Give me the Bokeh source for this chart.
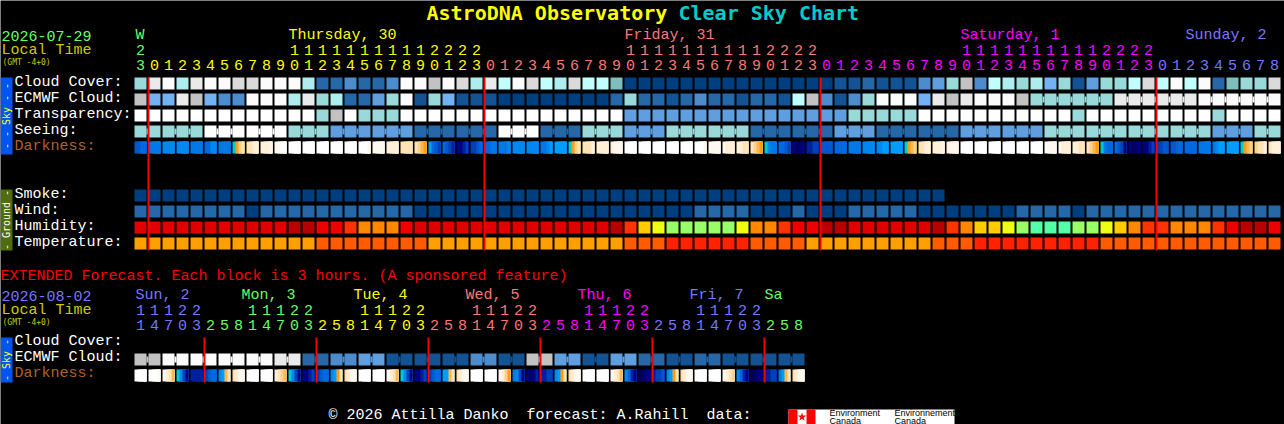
from math import pi
from bokeh.plotting import figure
from bokeh.core.properties import value
from bokeh.embed import file_html
from bokeh.resources import INLINE

# ---------- data (one code per hourly block) ----------
title_parts = [("AstroDNA Observatory", "#FFFF00"), ("Clear Sky Chart", "#00CCCC")]
cloud_cover = list("HMNIMNNLLNNNICCDCCDNN" "KNLIMJNLJILJJG" "AAAAAAAAAAAAAAA" "BB" "CBBBDEHKDJIHIFHBEHHJLJNJNCGHHL")
ecmwf_cloud = list("KFFMKFDDNNNIMHICCEHNB" "HFBBB" "AAAAAAAA" "CHCCBCDCCBCCBJKDBD" "HNNNFMKMNNNKHHHHHHMMMMMMNNNNNN")
transparency = list("WWWWWWWWWWWWW" "HKWHHHWW" "WWWWWWWWWWWWWW" "EEEEEEEEEEEEEEEE" "HHHHH" "WWWWWWWWWWW" "H" "WWWWWWWWW" "H" "WWWW")
seeing = list("HHHHH" "WWWWWW" "HHH" "EEEEEE" "CCCCCC" "WWW" "CCC" "HHH" "EEE" "HHHHHH" "CCCCCC" "EEE" "CCCCCC" "EEEEEE" "HHHHHHHHHHHH" "EEE" "HH")
smoke = list("AAAAAAAAAAAAAAAAAAAAAAAAAAAAAAAAAAAAAAAAAAAAAAAAAAAAAAAAAA")
wind = list("CCCCCCCC" "A" "CCCCCCCCCCC" "AAAAAAAAAAAAAAAAAAAA" "CCCC" "AAA" "C" "AAA" "CCCCC" "AAAAAAA" "CCCC" "A" "CCCCCCCCCCCCCC")
humidity = list("rrrrrrrrrrrssttuvvvtr" "rrrrrrrrrrrrrsuxyzzzzzyvvuttssr" "rrrrrsuvxxyzmmmzzyxvuuvvvutsst")
temperature = list("aaaaaaaaaaaaa" "bbbbbbbb" "aaaaaaaaaaaaaa" "bbb" "cccccc" "bbbb" "aaaaaaaaa" "bbb" "ccccccccc" "bbbbbbbbbbbbb")
darkness = ("4455 6666 7777 7777 6666 5577 6666 9acd ddee eeef ffgg gggg gggg gggg gggg gggg gggf ffff eeee dddd dcba "
            "8543 5432 1123 3345 5566 6667 7777 7777 6678 8888 9acd ddde eeee efff gggg gggg gggg gggg gggg gggf ffff "
            "feee eedd dcba 9766 5543 1001 2233 4444 5555 6666 7777 7788 8888 9abc ddee eeef efff gggg gggg gggg gggg "
            "gggg gggg gfff feee eedd dcba 9655 5431 1001 1123 3344 4455 5555 6666 6788 8888 9abc cdde deee").split()
ext_ecmwf = list("KKNNNNNNNNMMCCDDEEBBBBBBDDBBKKEEBBEECCBBCCBBBBBB")
ext_darkness = ("gggg gggf fedb 9731 2222 3455 78bd deff gggg gggg edcb 9731 1123 3455 78ad deff gggg gggg fedb 9731 1123 "
                "3455 88bd deff gggg gggg feca 6731 1012 2233 78ad deff gggg gggg fedb 7521 0011 2334 78ad deff gggg gggg "
                "fedc 7521 0011 2233 68bd deff").split()

main_hours = list("3" "012345678901234567890123" "012345678901234567890123" "012345678901234567890123" "012345678")
main_tens = list("2" "          " "1111111111" "2222" "          " "1111111111" "2222" "          " "1111111111" "2222" "         ")
main_hour_groups = [0] + [1]*24 + [2]*24 + [3]*24 + [4]*9
ext_hours = list("14703" "25814703" "25814703" "25814703" "25814703" "25814703" "258")
ext_tens = list("11122" "   11122" "   11122" "   11122" "   11122" "   11122" "   ")
ext_hour_groups = [4]*5 + [0]*8 + [1]*8 + [2]*8 + [3]*8 + [4]*8 + [0]*3
day_colors = ["#66FF66", "#FFFF00", "#FF7777", "#FF00FF", "#7777FF"]
main_days = [("W", 0, 135), ("Thursday, 30", 1, 288), ("Friday, 31", 2, 624), ("Saturday, 1", 3, 960), ("Sunday, 2", 4, 1185)]
ext_days = [("Sun, 2", 4, 135), ("Mon, 3", 0, 241), ("Tue, 4", 1, 353), ("Wed, 5", 2, 465), ("Thu, 6", 3, 577), ("Fri, 7", 4, 689), ("Sa", 0, 764)]
main_labels = ["Cloud Cover:", "ECMWF Cloud:", "Transparency:", "Seeing:", "Darkness:"]
ground_labels = ["Smoke:", "Wind:", "Humidity:", "Temperature:"]
ext_labels = ["Cloud Cover:", "ECMWF Cloud:", "Darkness:"]
main_date, ext_date = "2026-07-29", "2026-08-02"
local_time, gmt_note = "Local Time", "(GMT -4+0)"
ext_note = "EXTENDED Forecast. Each block is 3 hours. (A sponsored feature)"
footer = "\u00a9 2026 Attilla Danko\u00a0\u00a0forecast: A.Rahill\u00a0\u00a0data:"

# ---------- styling ----------
SKY = dict(A="#003F7F", B="#135393", C="#2667A7", D="#4C8CCC", E="#5F9FDF", F="#73B2F2", G="#7EBEBE", H="#99D9D9",
           I="#ADEDED", J="#C1FFFF", K="#C2C2C2", L="#DADADA", M="#EAEAEA", N="#FBFBFB", W="#FFFFFF")
HUM = dict(r="#E00000", s="#B80000", t="#EE0000", u="#FF3300", v="#FF8800", x="#FFCC00", y="#EEFF11", z="#99FF66", m="#55FFAA")
TMP = dict(a="#FFA000", b="#FF5C00", c="#FF2200")
DRK = {"0": "#000060", "1": "#000080", "2": "#0020A0", "3": "#0040B8", "4": "#0058D0", "5": "#0068E0", "6": "#0078E8",
       "7": "#0088F0", "8": "#009CFF", "9": "#00C8D8", "a": "#FF9C10", "b": "#FFB850", "c": "#FFD090", "d": "#FFE4B8",
       "e": "#FFF0DA", "f": "#FFF8F0", "g": "#FFFFFF"}
X0, PITCH, CELL = 134, 14, 12
MONO = "Liberation Mono"

p = figure(width=1284, height=424, x_range=(0, 1284), y_range=(424, 0), toolbar_location=None,
           output_backend="svg", background_fill_color="#000000", border_fill_color="#000000",
           min_border=0, outline_line_color=None, x_axis_type=None, y_axis_type=None)
p.margin = 0
p.grid.visible = False

def boxes(l, r, t, b, c):
    p.quad(left=l, right=r, top=t, bottom=b, fill_color=c, line_color=None)

def row(codes, y, pal):
    boxes([X0 + PITCH*i for i in range(len(codes))], [X0 + PITCH*i + CELL for i in range(len(codes))],
          [y]*len(codes), [y + CELL]*len(codes), [pal[k] for k in codes])

def joins(idx, codes, y, pal):
    boxes([X0 + PITCH*i + CELL for i in idx], [X0 + PITCH*i + PITCH for i in idx],
          [y + 3]*len(idx), [y + 9]*len(idx), [pal[codes[i]] for i in idx])

def dark_row(cells, y):
    # each slice runs to the cell's right edge; later slices paint over earlier ones (no seams)
    n = len(cells[0])
    w = CELL / n
    ls, rs, cs = [], [], []
    for i, cell in enumerate(cells):
        for j, k in enumerate(cell):
            ls.append(X0 + PITCH*i + j*w)
            rs.append(X0 + PITCH*i + CELL)
            cs.append(DRK[k])
    boxes(ls, rs, [y]*len(ls), [y + CELL]*len(ls), cs)

def txt(x, y, s, c, size=15, style="normal", font=MONO, align="left", angle=0):
    p.text(x=[x], y=[y], text=[s], text_color=c, text_font=value(font), text_font_size=f"{size}px",
           text_font_style=style, text_align=align, text_baseline="middle", angle=angle)

# side blocks
boxes([0, 0, 0], [12, 12, 12], [77, 189, 337], [154, 250, 382], ["#0055EE", "#4F6C0F", "#0055EE"])
SIDE = "DejaVu Sans Mono"
txt(6, 115.5, "- - Sky - -", "#FFFF33", 10, font=SIDE, align="center", angle=pi/2)
txt(6, 219.5, "- Ground -", "#FFFFFF", 10, font=SIDE, align="center", angle=pi/2)
txt(6, 359.5, "- Sky -", "#FFFF33", 10, font=SIDE, align="center", angle=pi/2)

# main rows
row(cloud_cover, 77, SKY)
row(ecmwf_cloud, 93, SKY)
row(transparency, 109, SKY)
row(seeing, 125, SKY)
dark_row(darkness, 141)
joins([i for i in range(64, 81) if i not in (69, 75)], ecmwf_cloud, 93, SKY)
joins([0] + [i for i in range(2, 81) if (i - 2) % 3 != 2], seeing, 125, SKY)
row(smoke, 189, SKY)
row(wind, 205, SKY)
row(humidity, 221, HUM)
row(temperature, 237, TMP)
boxes([147 + 336*k for k in range(4)], [149 + 336*k for k in range(4)], [77]*4, [250]*4, ["#FF0000"]*4)

# extended rows
row(ext_ecmwf, 353, SKY)
joins(list(range(0, 47, 2)), ext_ecmwf, 353, SKY)
dark_row(ext_darkness, 369)
boxes([203 + 112*k for k in range(6)], [205 + 112*k for k in range(6)], [337]*6, [382]*6, ["#FF0000"]*6)

# title
txt(426, 12, title_parts[0][0], title_parts[0][1], 20, "bold", font="DejaVu Sans Mono")
txt(678, 12, title_parts[1][0], title_parts[1][1], 20, "bold", font="DejaVu Sans Mono")

# headers
txt(1, 35, main_date, day_colors[0])
txt(1, 50, local_time, "#CCCC00")
txt(2, 62, gmt_note, "#CCCC00", 8, font=SIDE)
for s, g, x in main_days:
    txt(x, 35, s, day_colors[g])
for i, (t, u) in enumerate(zip(main_tens, main_hours)):
    cx = X0 + PITCH*i + CELL/2
    col = day_colors[main_hour_groups[i]]
    if t.strip():
        txt(cx, 49.5, t, col, align="center")
    txt(cx, 64.5, u, col, align="center")

for lab, y in zip(main_labels, [82, 98, 114, 130, 146]):
    txt(14, y, lab, "#B0602C" if lab.startswith("Dark") else "#FFFFFF")
for lab, y in zip(ground_labels, [194, 210, 226, 242]):
    txt(14, y, lab, "#FFFFFF")

txt(0, 276, ext_note, "#FF0000")
txt(1, 295, ext_date, day_colors[4])
txt(1, 310, local_time, "#CCCC00")
txt(2, 322, gmt_note, "#CCCC00", 8, font=SIDE)
for s, g, x in ext_days:
    txt(x, 295, s, day_colors[g])
for i, (t, u) in enumerate(zip(ext_tens, ext_hours)):
    cx = X0 + PITCH*i + CELL/2
    col = day_colors[ext_hour_groups[i]]
    if t.strip():
        txt(cx, 309.5, t, col, align="center")
    txt(cx, 324.5, u, col, align="center")
for lab, y in zip(ext_labels, [341, 357, 373]):
    txt(14, y, lab, "#B0602C" if lab.startswith("Dark") else "#FFFFFF")

# footer
txt(328, 415, footer, "#FFFFFF")
boxes([788, 788, 806], [954, 797, 815], [409, 409, 409], [424, 424, 424], ["#FFFFFF", "#FF0000", "#FF0000"])
p.scatter(x=[801.5], y=[416.5], size=9, marker="star", fill_color="#FF0000", line_color=None)
for x, a in [(829, "Environment"), (894, "Environnement")]:
    txt(x, 412.5, a, "#000000", 9, font="Liberation Sans")
    txt(x, 420, "Canada", "#000000", 9, font="Liberation Sans")

open("out.html", "w").write(file_html(p, INLINE))
